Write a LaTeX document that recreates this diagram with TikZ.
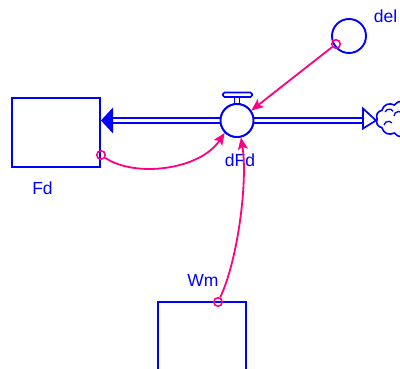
\documentclass[tikz,border=0pt]{standalone}
\usepackage{fontspec}
\setmainfont{Liberation Sans}
\usetikzlibrary{arrows.meta,shapes.symbols,calc}
\definecolor{sdblue}{RGB}{0,0,255}
\definecolor{sdpink}{RGB}{255,0,128}
\tikzset{
  stock/.style={draw=sdblue, line width=1.9pt, fill=white, rectangle, inner sep=0pt},
  lbl/.style={text=sdblue, font=\fontsize{17.5}{20}\selectfont, inner sep=0pt, anchor=base},
  valve/.style={draw=sdblue, line width=1.9pt, fill=white, circle, minimum size=33pt, inner sep=0pt},
  aux/.style={draw=sdblue, line width=1.9pt, fill=white, circle, minimum size=34pt, inner sep=0pt},
  pipe/.style={draw=sdblue, line width=1.6pt, double=white, double distance=3.2pt},
  tap/.style={draw=sdpink, line width=1.6pt, circle, minimum size=8.5pt, inner sep=0pt},
  link/.style={draw=sdpink, line width=1.8pt, -{Stealth[length=12pt,width=10pt,inset=2.5pt]}},
}
\begin{document}
\begin{tikzpicture}[x=1pt,y=-1pt]
\useasboundingbox (0,0) rectangle (400,369);
\clip (0,0) rectangle (400,369);

% stocks
\node[stock, minimum width=88pt, minimum height=69pt] (Fd) at (56,132.5) {};
\node[lbl] (FdL) at (42.5,195) {Fd};
\node[stock, minimum width=88pt, minimum height=90pt] (Wm) at (202,347) {};
\node[lbl] (WmL) at (203,286.5) {Wm};

% auxiliary
\node[aux] (del) at (349,36) {};
\node[lbl] (delL) at (385.5,23) {del};

% cloud (sink)
\node[draw=sdblue, line width=1.6pt, fill=white, cloud, cloud puffs=10, cloud puff arc=110, aspect=1.4, minimum width=52pt, minimum height=36pt, inner sep=0pt] (sink) at (402,119) {};
\draw[sdblue, line width=1.3pt] (385,112) arc (200:330:4.5) (384,125) arc (190:320:4.5) (394,116) arc (180:300:4.5);

% pipes
\coordinate (inTipBase) at (113,120.5);
\coordinate (outTipBase) at (363,120.5);
\node[valve] (dFd) at (237,120.5) {};
\draw[pipe] (dFd.west) -- (inTipBase);
\draw[pipe] (dFd.east) -- (outTipBase);
\fill[sdblue] (Fd.east |- inTipBase) -- (113,107.5) -- (113,133.5) -- cycle;
\draw[sdblue, line width=1.7pt, fill=white, line join=miter] (363,108.5) -- (376,120.5) -- (363,128.5) -- cycle;
\node[valve] (dFdv) at (dFd) {};
% valve handle
\draw[sdblue, line width=1.6pt, fill=white] (234.5,104) rectangle (239.5,97);
\draw[sdblue, line width=1.6pt, fill=white, rounded corners=1.5pt] (223,92.5) rectangle (252,97);
\node[lbl] (dFdL) at (240,167) {dFd};

% taps
\node[tap] (tdel) at (336,44) {};
\node[tap] (tFd) at (101,155) {};
\node[tap] (tWm) at (218,302) {};

% links
\draw[link] (tdel) -- (dFdv.35);
\draw[link] (tFd) .. controls (135,178) and (200,170) .. (dFdv.225);
\draw[link] (tWm) .. controls (238,260) and (248,180) .. (dFdv.283);
\end{tikzpicture}
\end{document}
